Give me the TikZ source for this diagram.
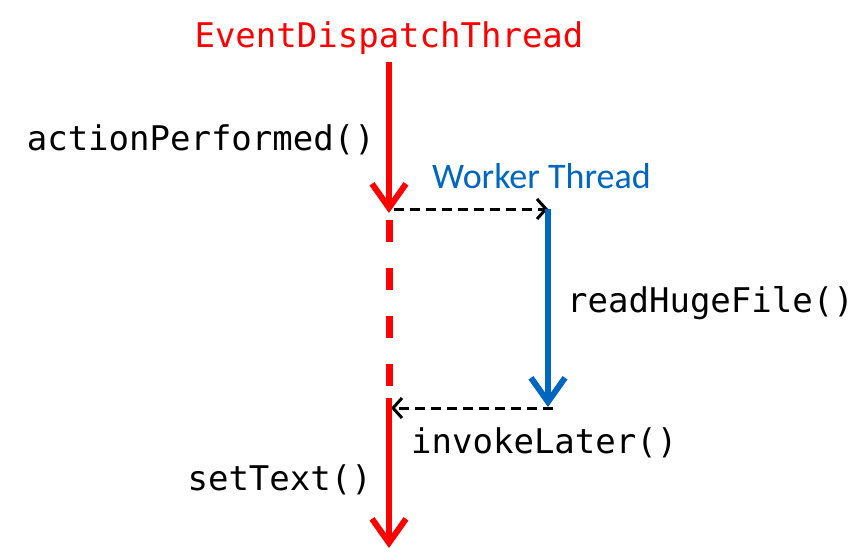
\documentclass[tikz,border=0pt]{standalone}
\usepackage{fontspec}
\setmonofont{DejaVu Sans Mono}
\newfontfamily\workerfont{Carlito}
\usetikzlibrary{arrows.meta}

\definecolor{edtred}{RGB}{255,0,0}
\definecolor{workerblue}{RGB}{0,102,191}

\tikzset{
	code/.style={inner sep=0pt, font=\ttfamily\fontsize{34}{34}\selectfont},
	thread/.style={line width=6pt, -{Straight Barb[length=24pt,width=34pt,line width=6pt]}},
	handoff/.style={line width=3pt, dash pattern=on 10pt off 6pt, -{Straight Barb[length=9pt,width=20pt,line width=3pt]}}
}

\begin{document}
\begin{tikzpicture}
	[x=1pt,y=-1pt]
	\useasboundingbox (0,0) rectangle (863,557);
	\node[code, text=edtred, anchor=base] (edt) at (389,47) {EventDispatchThread};
	\node[code, anchor=base east] (action) at (375,150) {actionPerformed()};
	\node[inner sep=0pt, anchor=base west, text=workerblue, font=\workerfont\fontsize{36}{36}\selectfont] (worker) at (432,188) {Worker Thread};
	\node[code, anchor=base west] (read) at (567,312) {readHugeFile()};
	\node[code, anchor=base west] (invoke) at (411,453) {invokeLater()};
	\node[code, anchor=base east] (settext) at (372,490) {setText()};
	\coordinate (edtTop) at (389,62);
	\coordinate (edtCall) at (389,213);
	\coordinate (edtWait) at (389,220);
	\coordinate (edtBack) at (389,398);
	\coordinate (edtEnd) at (389,548);
	\coordinate (workTop) at (548,209);
	\coordinate (workEnd) at (548,407);
	\draw[thread, edtred] (edtTop) -- (edtCall);
	\draw[edtred, line width=7pt, dash pattern=on 22pt off 26pt] (edtWait) -- (edtBack);
	\draw[handoff] (394,209) -- (workTop);
	\draw[thread, workerblue] (workTop) -- (workEnd);
	\draw[handoff] (553,408) -- (391,408);
	\draw[thread, edtred] (edtBack) -- (edtEnd);
\end{tikzpicture}
\end{document}
